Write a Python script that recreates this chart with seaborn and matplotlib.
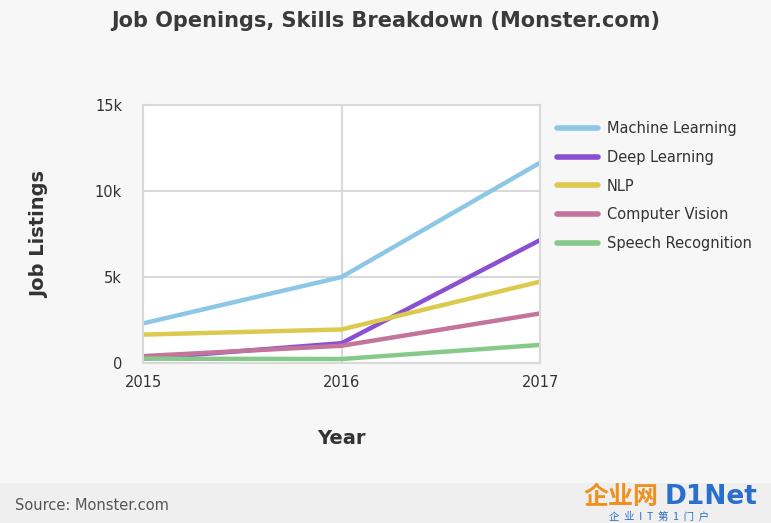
import pandas as pd
import numpy as np
import seaborn as sns
import matplotlib.pyplot as plt
from matplotlib.ticker import FuncFormatter

# values (thousands of listings)
years = [2015, 2016, 2017]
skills = ['Machine Learning', 'Deep Learning', 'NLP', 'Computer Vision', 'Speech Recognition']
machine_learning = [2300, 5000, 11650]
deep_learning = [250, 1150, 7150]
nlp = [1650, 1950, 4730]
computer_vision = [400, 1000, 2880]
speech_recognition = [250, 230, 1050]
colors = ['#8cc8e6', '#8a4fd2', '#dcca4f', '#c3749b', '#86c98b']

series = [machine_learning, deep_learning, nlp, computer_vision, speech_recognition]
df = pd.DataFrame({
    'Year': years * len(skills),
    'Skill': np.repeat(skills, len(years)),
    'Listings': sum(series, []),
})

sns.set_style('whitegrid')
plt.rcParams['font.family'] = ['DejaVu Sans', 'Noto Sans CJK SC']

fig = plt.figure(figsize=(7.71, 5.23), dpi=100, facecolor='#f7f7f7')
ax = fig.add_axes([0.1855, 0.306, 0.515, 0.493])
ax.set_facecolor('white')

sns.lineplot(data=df, x='Year', y='Listings', hue='Skill', hue_order=skills,
             palette=colors, linewidth=3.2, ax=ax)

ax.set_xlim(2015, 2017)
ax.set_ylim(0, 15000)
ax.set_xticks(years)
ax.set_yticks([0, 5000, 10000, 15000])
ax.yaxis.set_major_formatter(FuncFormatter(lambda v, p: '0' if v == 0 else f'{int(v / 1000)}k'))
ax.grid(True, color='#d9d9d9', linewidth=1.5)
for s in ax.spines.values():
    s.set_visible(True)
    s.set_color('#d9d9d9')
    s.set_linewidth(1.5)
ax.tick_params(axis='both', colors='#333333', labelsize=10.5, length=0)
ax.tick_params(axis='x', pad=9)
ax.tick_params(axis='y', pad=15)
ax.set_xlabel('Year', fontsize=14, fontweight='bold', color='#333333', labelpad=28)
ax.set_ylabel('Job Listings', fontsize=14, fontweight='bold', color='#333333', labelpad=33)

leg = ax.legend(loc='upper left', bbox_to_anchor=(1.01, 0.99), frameon=False,
                fontsize=10.5, handlelength=2.8, labelspacing=0.95, handletextpad=0.6)
for line in leg.get_lines():
    line.set_linewidth(4)
for t in leg.get_texts():
    t.set_color('#333333')

fig.text(0.5, 0.96, 'Job Openings, Skills Breakdown (Monster.com)', ha='center', va='center',
         fontsize=15, fontweight='bold', color='#3a3a3a')

# footer band
fig.patches.append(plt.Rectangle((0, 0), 1, 0.077, transform=fig.transFigure,
                                 facecolor='#efefef', edgecolor='none', zorder=0))
fig.text(0.02, 0.033, 'Source: Monster.com', ha='left', va='center', fontsize=10.5, color='#555555')

# watermark
fig.text(0.757, 0.05, '企业网', ha='left', va='center', fontsize=18, fontweight='bold',
         color='#f0901e', family=['Noto Sans CJK SC', 'DejaVu Sans'])
fig.text(0.862, 0.05, 'D1Net', ha='left', va='center', fontsize=19, fontweight='bold', color='#2a6fc9')
fig.text(0.79, 0.011, '企  业  I  T  第  1  门  户', ha='left', va='center', fontsize=7.5,
         color='#2a6fc9', family=['Noto Sans CJK SC', 'DejaVu Sans'])

fig.savefig('out.png', dpi=100, facecolor=fig.get_facecolor())
